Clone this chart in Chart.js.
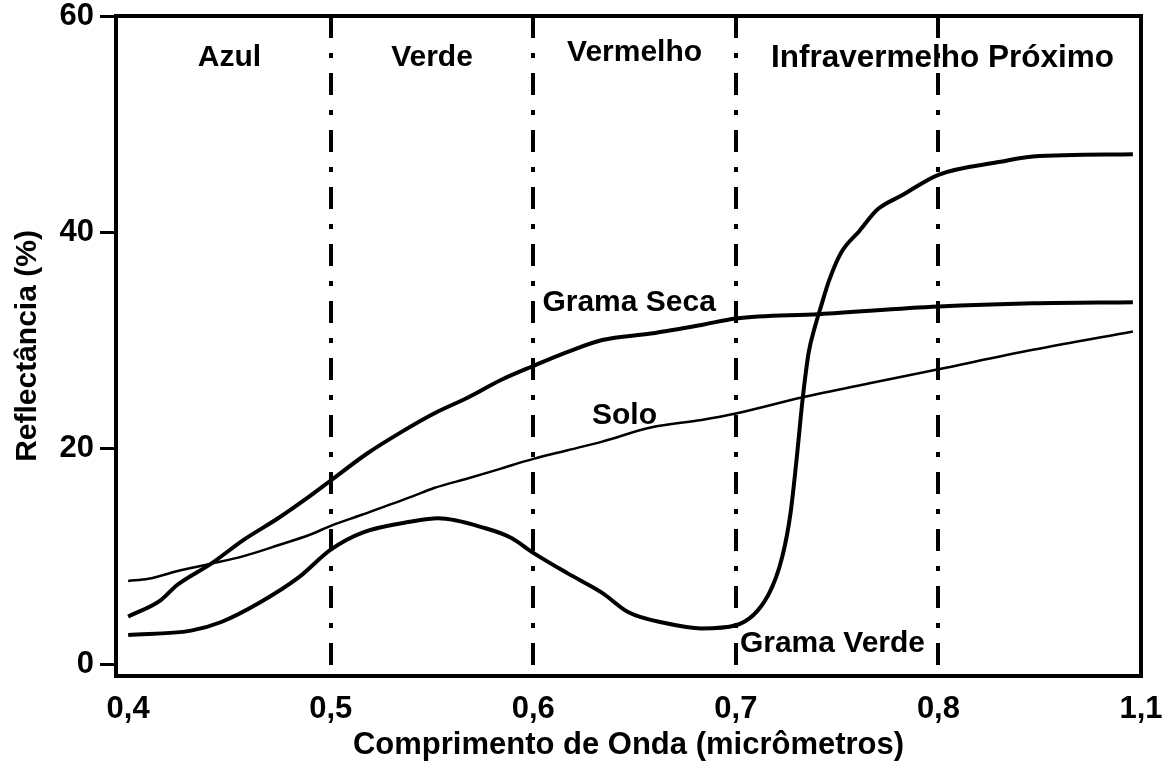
<!DOCTYPE html>
<html lang="pt">
<head>
<meta charset="utf-8">
<title>Reflectância espectral</title>
<script src="https://cdn.jsdelivr.net/npm/chart.js@4.4.1/dist/chart.umd.min.js"></script>
<style>
  body { margin: 0; background: #fff; }
  canvas { display: block; }
</style>
</head>
<body>
<canvas id="grafico" width="1162" height="765"></canvas>
<script>
// comprimentos de onda (micrômetros) e reflectância (%)
const ondaGramaVerde = [0.4, 0.431, 0.446, 0.465, 0.484, 0.5, 0.516, 0.54, 0.553, 0.576, 0.589, 0.6, 0.617, 0.634, 0.647, 0.665, 0.683, 0.7, 0.716, 0.723, 0.727, 0.73, 0.733, 0.736, 0.739, 0.742, 0.746, 0.752, 0.761, 0.77, 0.782, 0.8, 0.892, 0.94, 1.088];
const reflGramaVerde = [2.7, 3.1, 3.9, 5.7, 8.0, 10.6, 12.2, 13.2, 13.5, 12.6, 11.7, 10.3, 8.4, 6.6, 4.8, 3.8, 3.3, 3.6, 6.4, 10.0, 14.0, 19.0, 24.6, 28.9, 31.2, 33.1, 35.5, 38.1, 40.1, 42.1, 43.4, 45.3, 46.5, 47.0, 47.2];

const ondaGramaSeca = [0.4, 0.416, 0.424, 0.441, 0.457, 0.474, 0.49, 0.5, 0.518, 0.535, 0.551, 0.568, 0.584, 0.6, 0.617, 0.634, 0.658, 0.683, 0.7, 0.741, 0.8, 0.94, 1.088];
const reflGramaSeca = [4.4, 5.9, 7.3, 9.3, 11.5, 13.5, 15.6, 17.0, 19.5, 21.5, 23.2, 24.7, 26.3, 27.6, 28.9, 30.0, 30.6, 31.4, 32.0, 32.4, 33.1, 33.4, 33.5];

const ondaSolo = [0.4, 0.41, 0.424, 0.441, 0.457, 0.474, 0.49, 0.5, 0.515, 0.54, 0.551, 0.568, 0.584, 0.6, 0.617, 0.634, 0.658, 0.683, 0.7, 0.733, 0.766, 0.8, 0.94, 1.088];
const reflSolo = [7.7, 7.9, 8.6, 9.3, 10.0, 11.0, 12.0, 12.8, 13.8, 15.5, 16.3, 17.2, 18.1, 19.0, 19.8, 20.6, 21.9, 22.6, 23.2, 24.7, 26.0, 27.3, 29.1, 30.8];

const ticksOnda = [0.4, 0.5, 0.6, 0.7, 0.8, 1.1];
const rotulosOnda = ['0,4', '0,5', '0,6', '0,7', '0,8', '1,1'];
const ticksRefl = [0, 20, 40, 60];

const limitesFaixas = [0.5, 0.6, 0.7, 0.8];
const nomesFaixas = ['Azul', 'Verde', 'Vermelho', 'Infravermelho Próximo'];

// o eixo da figura comprime 0,8–1,1 no mesmo espaço de 0,1
function posicao(w) {
    return w <= 0.8 ? w : 0.8 + (w - 0.8) / 3;
}

function pontos(ondas, valores) {
    return ondas.map((w, i) => ({ x: posicao(w), y: valores[i] }));
}

const FONTE = 'Liberation Sans';

// linhas verticais tracejadas e textos dentro do gráfico
const anotacoes = {
    id: 'anotacoes',
    beforeDatasetsDraw(chart) {
        const { ctx, chartArea, scales } = chart;
        ctx.save();
        ctx.strokeStyle = '#000';
        ctx.lineWidth = 4;
        ctx.setLineDash([22, 15, 5, 15]);
        limitesFaixas.forEach(w => {
            const x = Math.round(scales.x.getPixelForValue(posicao(w)));
            ctx.beginPath();
            ctx.moveTo(x, chartArea.top);
            ctx.lineTo(x, chartArea.bottom);
            ctx.stroke();
        });
        ctx.setLineDash([]);

        ctx.fillStyle = '#000';
        ctx.font = `bold 30px "${FONTE}"`;
        ctx.textAlign = 'center';
        ctx.textBaseline = 'middle';
        const centros = [0.45, 0.55, 0.65, 0.802];
        nomesFaixas.forEach((nome, i) => {
            const y = i === 2 ? chartArea.top + 37 : chartArea.top + 42;
            ctx.font = `bold ${i === 3 ? 31.5 : 30}px "${FONTE}"`;
            ctx.fillText(nome, scales.x.getPixelForValue(centros[i]), y);
        });

        ctx.font = `bold 30px "${FONTE}"`;
        ctx.textAlign = 'left';
        const rotulos = [
            ['Grama Seca', 0.6045, 33.5],
            ['Solo', 0.629, 23.0],
            ['Grama Verde', 0.702, 1.9]
        ];
        rotulos.forEach(([txt, w, v]) => {
            ctx.fillText(txt, scales.x.getPixelForValue(w), scales.y.getPixelForValue(v));
        });
        ctx.restore();
    },
    afterDatasetsDraw(chart) {
        const { ctx, chartArea } = chart;
        ctx.save();
        ctx.strokeStyle = '#000';
        ctx.lineWidth = 4;
        ctx.strokeRect(chartArea.left, chartArea.top, chartArea.right - chartArea.left, chartArea.bottom - chartArea.top);
        ctx.restore();
    }
};

const estiloLinha = {
    borderColor: '#000',
    pointRadius: 0,
    fill: false,
    cubicInterpolationMode: 'monotone'
};

new Chart(document.getElementById('grafico'), {
    type: 'line',
    data: {
        datasets: [
            { label: 'Grama Verde', data: pontos(ondaGramaVerde, reflGramaVerde), borderWidth: 4, ...estiloLinha },
            { label: 'Grama Seca', data: pontos(ondaGramaSeca, reflGramaSeca), borderWidth: 4, ...estiloLinha },
            { label: 'Solo', data: pontos(ondaSolo, reflSolo), borderWidth: 2.5, ...estiloLinha }
        ]
    },
    options: {
        responsive: false,
        animation: false,
        layout: { padding: { left: 0, top: 16, right: 21, bottom: 0 } },
        plugins: {
            legend: { display: false },
            tooltip: { enabled: false }
        },
        scales: {
            x: {
                type: 'linear',
                min: 0.394,
                max: 0.9,
                afterBuildTicks(scale) {
                    scale.ticks = ticksOnda.map(w => ({ value: posicao(w) }));
                },
                afterFit(scale) {
                    scale.height = 89;
                    scale.paddingLeft = 0;
                    scale.paddingRight = 0;
                },
                grid: { display: false },
                border: { display: false },
                ticks: {
                    color: '#000',
                    font: { family: FONTE, size: 31, weight: 'bold' },
                    padding: 7,
                    maxRotation: 0,
                    autoSkip: false,
                    callback: (v, i) => rotulosOnda[i]
                },
                title: {
                    display: true,
                    text: 'Comprimento de Onda (micrômetros)',
                    color: '#000',
                    font: { family: FONTE, size: 31, weight: 'bold' },
                    padding: { top: 2, bottom: 1 }
                }
            },
            y: {
                min: -1.1,
                max: 60,
                afterBuildTicks(scale) {
                    scale.ticks = ticksRefl.map(v => ({ value: v }));
                },
                afterFit(scale) {
                    scale.width = 116;
                    scale.paddingTop = 0;
                    scale.paddingBottom = 0;
                },
                grid: {
                    drawOnChartArea: false,
                    color: '#000',
                    lineWidth: 3,
                    tickLength: 16
                },
                border: { display: false },
                ticks: {
                    color: '#000',
                    font: { family: FONTE, size: 31, weight: 'bold' },
                    padding: 6
                },
                title: {
                    display: true,
                    text: 'Reflectância (%)',
                    color: '#000',
                    font: { family: FONTE, size: 30, weight: 'bold' },
                    padding: { top: 10, bottom: 10 }
                }
            }
        }
    },
    plugins: [anotacoes]
});
</script>
</body>
</html>
